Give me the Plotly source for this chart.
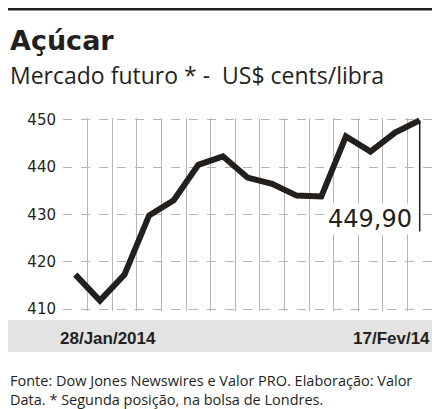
import plotly.graph_objects as go

# Açúcar - mercado futuro, US$ cents/libra
dias = list(range(15))
precos = [417.3, 411.8, 417.3, 429.8, 433.0, 440.5, 442.3, 437.8, 436.5,
          434.0, 433.8, 446.5, 443.3, 447.3, 449.9]
y_ticks = [410, 420, 430, 440, 450]
data_ini = "28/Jan/2014"
data_fim = "17/Fev/14"
ultimo = "449,90"

fig = go.Figure()
fig.add_trace(go.Scatter(x=dias, y=precos, mode="lines",
                         line=dict(color="#231f1c", width=6), hoverinfo="skip"))
# marker line for the last value
fig.add_trace(go.Scatter(x=[dias[-1], dias[-1]], y=[precos[-1], 426.4], mode="lines",
                         line=dict(color="#231f1c", width=1.5), hoverinfo="skip"))

L = -55 / 369
fig.update_layout(
    width=440, height=409, showlegend=False,
    paper_bgcolor="white", plot_bgcolor="white",
    margin=dict(l=55, r=16, t=110, b=106),
    font=dict(family="Liberation Sans, Arial", color="#231f1c"),
    xaxis=dict(range=[-0.5, 14.5], tickvals=[i - 0.5 for i in range(16)],
               showticklabels=False, showgrid=True, gridcolor="#b5b5b5",
               gridwidth=1, zeroline=False, ticks=""),
    yaxis=dict(range=[409.6, 450.4], tickvals=y_ticks, showgrid=True,
               gridcolor="#b5b5b5", griddash="dash", gridwidth=1, zeroline=False,
               tickfont=dict(size=15, family="DejaVu Sans", color="#231f1c"),
               ticklabelstandoff=6),
)

fig.add_shape(type="rect", xref="paper", yref="paper", x0=L, x1=1.03,
              y0=-0.212, y1=-0.047, fillcolor="#e3e3e3", line_width=0, layer="below")
fig.add_shape(type="line", xref="paper", yref="paper", x0=L, x1=1.05,
              y0=1.565, y1=1.565, line=dict(color="#231f1c", width=3))

fig.add_annotation(x=dias[-1] - 0.22, y=429, text=ultimo, showarrow=False,
                   xanchor="right", yanchor="middle", bgcolor="white",
                   font=dict(size=24, family="DejaVu Sans"))
fig.add_annotation(xref="paper", yref="paper", x=-0.014, y=-0.14, text="<b>" + data_ini + "</b>",
                   showarrow=False, xanchor="left", yanchor="middle",
                   font=dict(size=17, family="Liberation Sans"))
fig.add_annotation(xref="paper", yref="paper", x=1.0, y=-0.14, text="<b>" + data_fim + "</b>",
                   showarrow=False, xanchor="right", yanchor="middle",
                   font=dict(size=17, family="Liberation Sans"))
fig.add_annotation(xref="paper", yref="paper", x=L, y=1.404, text="<b>Açúcar</b>",
                   showarrow=False, xanchor="left", yanchor="middle",
                   font=dict(size=27, family="DejaVu Sans"))
fig.add_annotation(xref="paper", yref="paper", x=L, y=1.223,
                   text="Mercado futuro * -  US$ cents/libra", showarrow=False,
                   xanchor="left", yanchor="middle", font=dict(size=23, family="Open Sans"))
fig.add_annotation(xref="paper", yref="paper", x=L, y=-0.3, align="left",
                   text="Fonte: Dow Jones Newswires e Valor PRO. Elaboração: Valor<br>Data. * Segunda posição, na bolsa de Londres.",
                   showarrow=False, xanchor="left", yanchor="top",
                   font=dict(size=14.5, family="Open Sans"))

fig.write_html("out.html")
